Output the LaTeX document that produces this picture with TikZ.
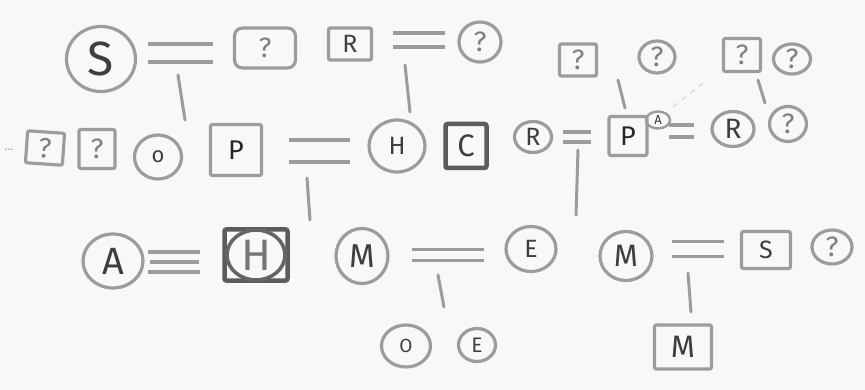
\documentclass[tikz,border=0pt]{standalone}
\usepackage{fontspec}
\setmainfont{Fira Sans}
\usetikzlibrary{shapes.geometric,positioning,calc}
\definecolor{paper}{HTML}{F8F8F7}
\definecolor{pen}{HTML}{9C9C9C}
\definecolor{pendark}{HTML}{5C5C5C}
\definecolor{ink}{HTML}{3E3E3E}
\definecolor{faint}{HTML}{DADADA}

\begin{document}
\begin{tikzpicture}[
  x=1pt, y=-1pt, color=ink,
  font=\fontsize{25}{25}\selectfont,
  female/.style={ellipse, draw=pen, line width=3.2pt, inner sep=0pt, text=ink},
  male/.style={rectangle, draw=pen, line width=3.2pt, inner sep=0pt, rounded corners=2pt, text=ink},
  heavy/.style={draw=pendark, line width=4.5pt},
  unknown/.style={font=\fontsize{28}{28}\selectfont, text=pen!70!ink},
  marry/.style={draw=pen, line width=3.2pt, double=paper},
  descent/.style={draw=pen, line width=3pt, line cap=round},
]
\fill[paper] (0,0) rectangle (865,390);
\useasboundingbox (0,0) rectangle (865,390);

% ---- top row: S = ?, R = ? ----
\node[female, minimum width=69, minimum height=65, font=\fontsize{48}{48}\selectfont] (S) at (101,59) {S};
\node[male, unknown, minimum width=61, minimum height=40, rounded corners=8pt] (Q1) at (265,48) {?};
\node[male, minimum width=43, minimum height=32] (R1) at (350,44) {R};
\node[female, unknown, minimum width=42, minimum height=40] (Q2) at (480,42) {?};

% ---- top right: two couples without marriage lines ----
\node[male, unknown, minimum width=37, minimum height=32] (Q5) at (578,60) {?};
\node[female, unknown, minimum width=36, minimum height=32] (Q6) at (657,57) {?};
\node[male, unknown, minimum width=37, minimum height=33] (Q8) at (742,55) {?};
\node[female, unknown, minimum width=37, minimum height=30] (Q9) at (792,59) {?};

% ---- middle row ----
\node[text=pen, font=\fontsize{12}{12}\selectfont] (more) at (9,150) {\ldots};
\node[male, unknown, minimum width=37, minimum height=32, rotate=-4] (Q3) at (45,148) {?};
\node[male, unknown, minimum width=36, minimum height=39] (Q4) at (97,149) {?};
\node[female, minimum width=47, minimum height=44, font=\fontsize{22}{22}\selectfont] (O1) at (158,157) {o};
\node[male, minimum width=51, minimum height=51, font=\fontsize{27}{27}\selectfont, text=black!85] (P1) at (236,150) {P};
\node[female, minimum width=56, minimum height=52] (H1) at (397,146) {H};
\node[male, heavy, minimum width=41, minimum height=44, font=\fontsize{31}{31}\selectfont] (C) at (466,146) {C};

\node[female, minimum width=37, minimum height=31] (Rc) at (533,137) {R};
\node[male, minimum width=38, minimum height=39, font=\fontsize{27}{27}\selectfont, text=black!85] (P2) at (628,136) {P};
\node[female, line width=2.4pt, minimum width=24, minimum height=17, font=\fontsize{13}{13}\selectfont] (Asm) at (658,120) {A};
\node[female, minimum width=42, minimum height=35, font=\fontsize{28}{28}\selectfont] (R2) at (733,129) {R};
\node[female, unknown, minimum width=37, minimum height=35] (Q7) at (788,124) {?};

% ---- bottom row ----
\node[female, minimum width=60, minimum height=54, font=\fontsize{38}{38}\selectfont] (A1) at (113,261) {A};
\node[male, heavy, minimum width=63, minimum height=51, font=\fontsize{44}{44}\selectfont, text=pen!60!ink] (H2) at (256,255) {H};
\draw[pendark!85!pen, line width=3.6pt] (H2.center) ellipse (29 and 25);
\node[female, minimum width=52, minimum height=55, font=\fontsize{33}{33}\selectfont] (M1) at (362,256) {M};
\node[female, minimum width=50, minimum height=45] (E1) at (531,249) {E};
\node[female, minimum width=49, minimum height=42, font=\fontsize{19}{19}\selectfont] (O2) at (406,346) {O};
\node[female, minimum width=37, minimum height=33, font=\fontsize{21}{21}\selectfont] (E2) at (477,345) {E};
\node[female, minimum width=52, minimum height=49, font=\fontsize{31}{31}\selectfont] (M2) at (626,256) {M};
\node[male, minimum width=49, minimum height=37] (S2) at (766,250) {S};
\node[female, unknown, minimum width=40, minimum height=34] (Q10) at (832,247) {?};
\node[male, minimum width=57, minimum height=44, font=\fontsize{31}{31}\selectfont] (M3) at (683,347) {M};

% ---- marriage centres and ends of descent lines ----
\coordinate (m1) at (180,53);  \coordinate (k1) at (185,120);
\coordinate (m2) at (419,40);  \coordinate (k2) at (410,112);
\coordinate (m3) at (320,151); \coordinate (k3) at (310,220);
\coordinate (m4) at (578,137); \coordinate (k4) at (576,215);
\coordinate (m5) at (681,131);
\coordinate (m6) at (447,255); \coordinate (k6) at (444,307);
\coordinate (m7) at (697,249); \coordinate (k7) at (691,312);
\coordinate (m8) at (175,262);
\coordinate (t1) at (618,80);  \coordinate (k8) at (625,108);
\coordinate (t2) at (758,80);  \coordinate (k9) at (765,103);

% ---- marriages (double lines) ----
\draw[marry, double distance=14.8pt, shorten <=11pt, shorten >=20pt] (S.east |- m1) -- (Q1.west |- m1);
\draw[marry, double distance=10.8pt, shorten <=20pt, shorten >=12pt] (R1.east |- m2) -- (Q2.west |- m2);
\draw[marry, double distance=18.8pt, shorten <=26pt, shorten >=17pt] (P1.east |- m3) -- (H1.west |- m3);
\draw[marry, double distance=6.8pt, shorten <=10pt, shorten >=16pt] (Rc.east |- m4) -- (P2.west |- m4);
\draw[marry, double distance=8.8pt, shorten <=-2pt, shorten >=16pt] (Asm.east |- m5) -- (R2.west |- m5);
\draw[marry, double distance=7.8pt, shorten <=22pt, shorten >=20pt] (M1.east |- m6) -- (E1.west |- m6);
\draw[marry, double distance=11.8pt, shorten <=18pt, shorten >=16pt] (M2.east |- m7) -- (S2.west |- m7);
% A and H: triple line
\draw[marry, double distance=16.8pt, shorten <=3pt, shorten >=22pt] (A1.east |- m8) -- (H2.west |- m8);
\draw[draw=pen, line width=3.2pt, shorten <=5pt, shorten >=23pt] (A1.east |- m8) -- (H2.west |- m8);

% ---- descent lines ----
\draw[descent] ($(m1)+(-2,22)$) -- (k1);
\draw[descent] ($(m2)+(-14,25)$) -- (k2);
\draw[descent] ($(m3)+(-13,27)$) -- (k3);
\draw[descent] ($(m4)+(0,13)$) -- (k4);
\draw[descent] ($(m6)+(-9,20)$) -- (k6);
\draw[descent] ($(m7)+(-9,24)$) -- (k7);
\draw[descent] (t1) -- (k8);
\draw[descent] (t2) -- (k9);

% faint pencil trace
\draw[faint, line width=1.2pt, dash pattern=on 6pt off 5pt] (673,107) -- (703,83);
\end{tikzpicture}
\end{document}
